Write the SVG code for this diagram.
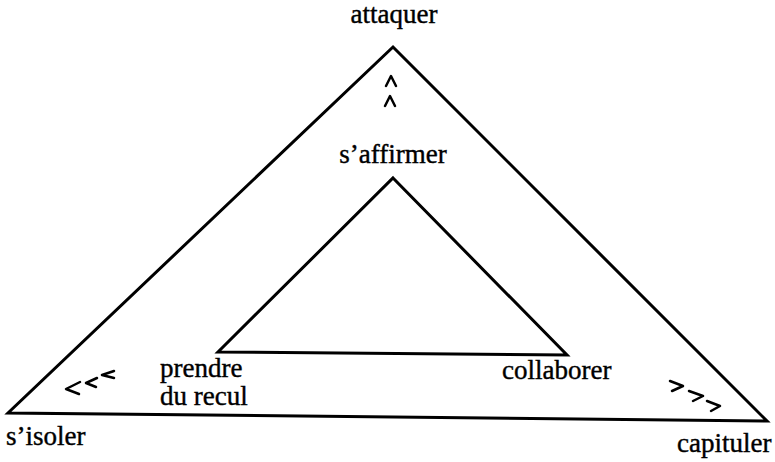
<svg xmlns="http://www.w3.org/2000/svg" width="775" height="462" viewBox="0 0 775 462">
<rect width="775" height="462" fill="#fff"/>
<g id="connectors" fill="none" stroke="#000">
<g id="triangles" stroke-width="3" stroke-linejoin="miter">
<path id="outer" d="M393,47 L767,421 L8,413 Z"/>
<path id="inner" d="M393,178 L567,355 L218,352 Z"/>
</g>
<g id="chevrons" stroke-width="2.5" stroke-linecap="round" stroke-linejoin="round">
<path d="M386,86 L391,76 L396,86"/>
<path d="M385,106 L390,96 L395,106"/>
<path d="M80,382 L66,389 L79,394"/>
<path d="M97,378 L86,383 L96,387"/>
<path d="M114,371 L102,375 L114,378"/>
<path d="M670,381 L683,386 L672,391"/>
<path d="M689,391 L703,396 L693,401"/>
<path d="M707,401 L720,406 L711,411"/>
</g>
</g>
<g id="labels" font-family="Liberation Serif" font-size="27" fill="#000" stroke="#000" stroke-width="0.4">
<g id="attaquer"><text x="394" y="23" text-anchor="middle">attaquer</text></g>
<g id="saffirmer"><text x="393" y="163" text-anchor="middle">s’affirmer</text></g>
<g id="prendre"><text x="160" y="377">prendre</text><text x="160" y="405">du recul</text></g>
<g id="collaborer"><text x="502" y="379">collaborer</text></g>
<g id="sisoler"><text x="6" y="445">s’isoler</text></g>
<g id="capituler"><text x="677" y="452">capituler</text></g>
</g>
</svg>
